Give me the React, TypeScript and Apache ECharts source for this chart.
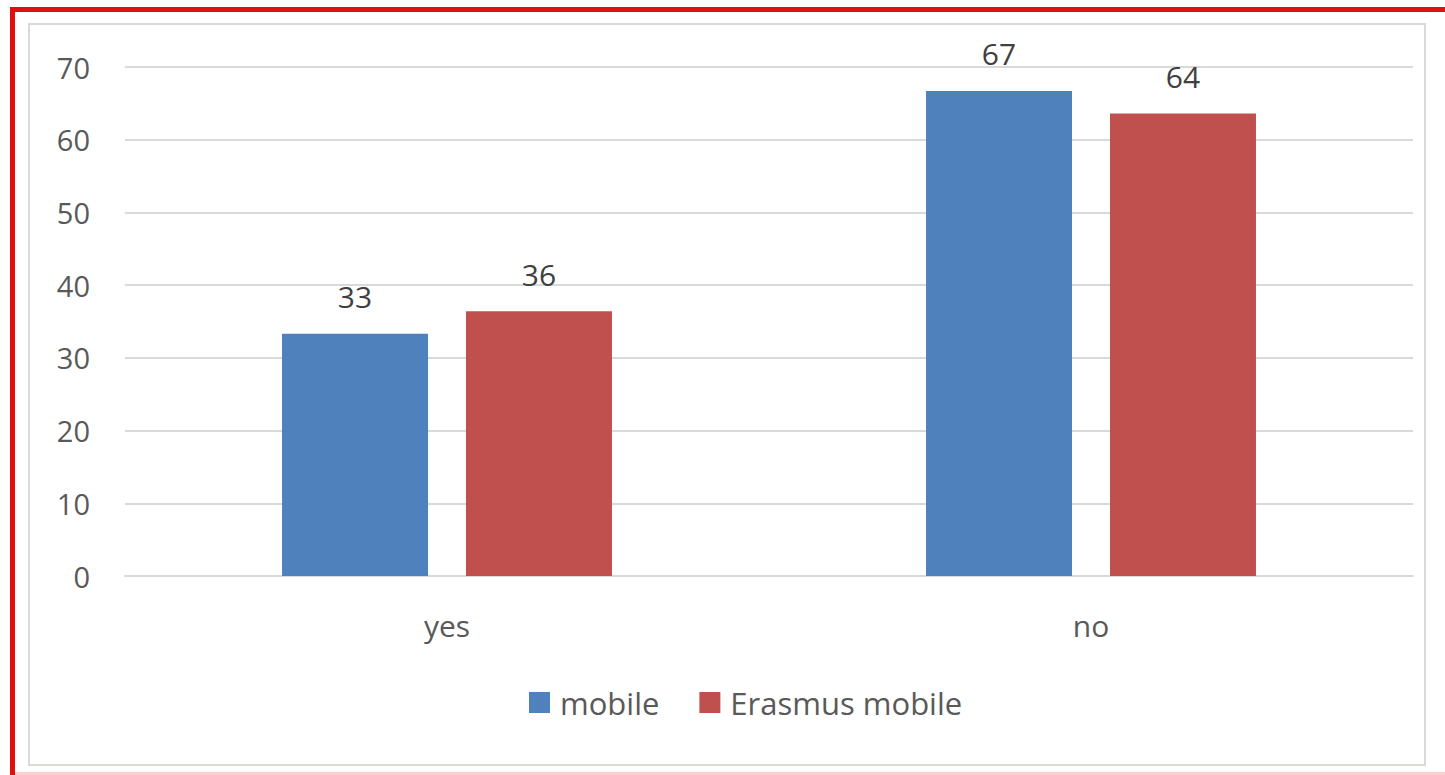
import React, { useEffect, useRef } from "react";
import * as echarts from "echarts";

const categories = ["yes", "no"];
const seriesNames = ["mobile", "Erasmus mobile"];
const mobileValues = [33.3, 66.7];
const erasmusValues = [36.4, 63.6];
const colors = ["#4f81bd", "#c0504d"];

export default function App() {
  const ref = useRef<HTMLDivElement>(null);
  useEffect(() => {
    if (!ref.current) return;
    const chart = echarts.init(ref.current, undefined, { renderer: "svg" });
    const font = "'Open Sans', 'Liberation Sans', sans-serif";
    const labelStyle = {
      show: true,
      position: "top" as const,
      distance: 22,
      color: "#404040",
      fontSize: 30,
      fontFamily: font,
      formatter: (p: any) => String(Math.round(p.value)),
    };
    chart.setOption({
      animation: false,
      backgroundColor: "#ffffff",
      graphic: [
        {
          type: "rect",
          shape: { x: 29, y: 24, width: 1396, height: 741 },
          style: { fill: "none", stroke: "#d4dcd4", lineWidth: 2 },
          silent: true,
        },
        {
          type: "rect",
          shape: { x: 10, y: 7, width: 1435, height: 5 },
          style: { fill: "#e01010" },
          silent: true,
        },
        {
          type: "rect",
          shape: { x: 10, y: 7, width: 5, height: 768 },
          style: { fill: "#e01010" },
          silent: true,
        },
        {
          type: "rect",
          shape: { x: 15, y: 772, width: 1430, height: 3 },
          style: { fill: "#fbd0d0" },
          silent: true,
        },
      ],
      grid: { left: 125, right: 32, top: 67, bottom: 199 },
      legend: {
        data: seriesNames,
        bottom: 52,
        left: 524,
        itemWidth: 21,
        itemHeight: 21,
        itemGap: 40,
        icon: "rect",
        textStyle: {
          fontSize: 31,
          color: "#595959",
          fontFamily: font,
          padding: [0, 0, 0, 5],
        },
      },
      xAxis: {
        type: "category",
        data: categories,
        axisTick: { show: false },
        axisLine: { lineStyle: { color: "#d9d9d9", width: 2 } },
        axisLabel: { fontSize: 30, color: "#595959", margin: 34, fontFamily: font },
      },
      yAxis: {
        type: "value",
        min: 0,
        max: 70,
        interval: 10,
        axisLine: { show: false },
        axisTick: { show: false },
        splitLine: { lineStyle: { color: "#d9d9d9", width: 2 } },
        axisLabel: { fontSize: 29, color: "#595959", margin: 35, fontFamily: font },
      },
      series: [
        {
          name: seriesNames[0],
          type: "bar",
          data: mobileValues,
          barWidth: 146,
          barGap: "26%",
          itemStyle: { color: colors[0] },
          label: labelStyle,
        },
        {
          name: seriesNames[1],
          type: "bar",
          data: erasmusValues,
          barWidth: 146,
          barGap: "26%",
          itemStyle: { color: colors[1] },
          label: labelStyle,
        },
      ],
    });
    return () => chart.dispose();
  }, []);
  return (
    <div
      ref={ref}
      style={{ position: "fixed", left: 0, top: 0, width: 1445, height: 775 }}
    />
  );
}
